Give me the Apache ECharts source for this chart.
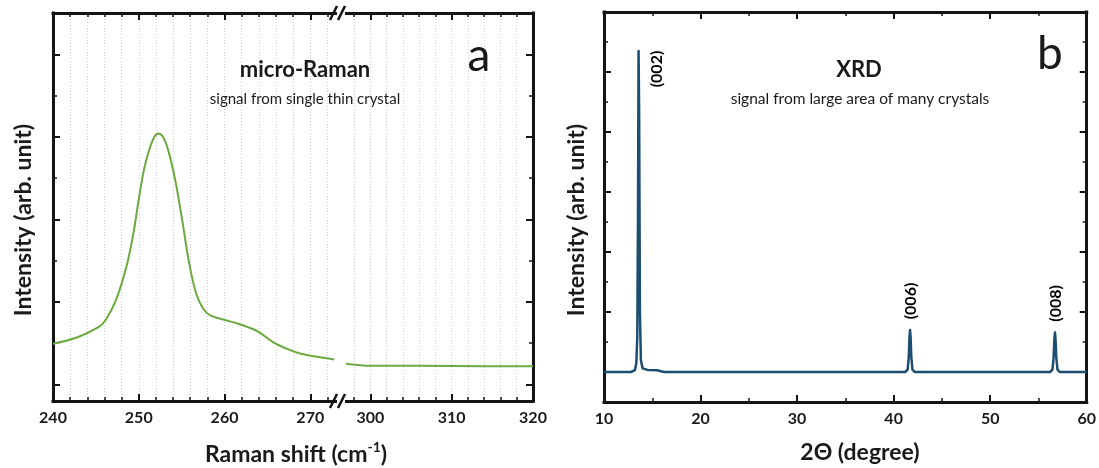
<!DOCTYPE html>
<html>
<head>
<meta charset="utf-8">
<script src="https://cdn.jsdelivr.net/npm/echarts@6/dist/echarts.min.js"></script>
<style>
  html, body { margin: 0; padding: 0; background: #ffffff; }
  #chart { width: 1099px; height: 468px; }
</style>
</head>
<body>
<div id="chart"></div>
<script>
// ---- (a) micro-Raman spectrum, split at the axis break ----
const ramanLowX = [240, 242.85, 245.3, 246.1, 247.33, 248.55, 249.37, 249.98, 250.59, 251.2, 251.81, 252.3,
  252.83, 253.44, 254.26, 255.07, 255.89, 256.7, 257.52, 258.33, 259.96, 261.59, 263.22, 264.03,
  265.66, 267.29, 268.92, 270.55, 272.79];
const ramanLowY = [0.493, 0.573, 0.695, 0.776, 1.018, 1.422, 1.826, 2.23, 2.594, 2.836, 2.998, 3.039,
  2.998, 2.836, 2.473, 1.988, 1.463, 1.099, 0.917, 0.836, 0.784, 0.735, 0.675, 0.634,
  0.513, 0.432, 0.372, 0.339, 0.303];
const ramanHighX = [297.0, 298.5, 300, 306, 314, 320];
const ramanHighY = [0.25, 0.235, 0.226, 0.226, 0.222, 0.222];

// Raman axis ticks
const ramanMajorLow = [240, 250, 260, 270];
const ramanMinorLow = [242, 244, 246, 248, 250, 252, 254, 256, 258, 260, 262, 264, 266, 268, 270, 272];
const ramanMajorHigh = [300, 310, 320];
const ramanMinorHigh = [298, 300, 302, 304, 306, 308, 310, 312, 314, 316, 318];
const ramanYMajor = [0, 1, 2, 3, 4];
const ramanYMinor = [0.5, 1.5, 2.5, 3.5];

// ---- (b) XRD pattern ----
const xrdX = [10, 12.8, 13.2, 13.35, 13.45, 13.52, 13.58, 13.64, 13.72, 13.82, 14.0, 14.5, 15.5, 16.2,
  41.2, 41.45, 41.57, 41.64, 41.7, 41.76, 41.83, 41.95, 42.2,
  56.2, 56.45, 56.57, 56.65, 56.71, 56.77, 56.85, 56.97, 57.2, 60];
const xrdY = [0, 0, 0.03, 0.15, 0.6, 2.6, 5.35, 4.3, 1.0, 0.2, 0.06, 0.035, 0.03, 0,
  0, 0.04, 0.25, 0.58, 0.70, 0.58, 0.25, 0.04, 0,
  0, 0.04, 0.24, 0.55, 0.66, 0.55, 0.24, 0.04, 0, 0];
const xrdPeakLabels = ['(002)', '(006)', '(008)'];
const xrdPeakX = [13.58, 41.7, 56.71];

const xrdMajor = [10, 20, 30, 40, 50, 60];
const xrdMinor = [15, 25, 35, 45, 55];
const xrdYMajor = [0, 1, 2, 3, 4, 5];
const xrdYMinor = [0.5, 1.5, 2.5, 3.5, 4.5, 5.5];

const INK = '#141414';
const FONT = 'Lato, "Open Sans", sans-serif';

function zip(xs, ys) { return xs.map((x, i) => [x, ys[i]]); }

function makeAxis(gridIndex, position, min, max, ticks, major, opts) {
  opts = opts || {};
  return {
    type: 'value', gridIndex, position, min, max,
    axisLine: { show: !!opts.line, onZero: false, lineStyle: { color: INK, width: 3, cap: 'square' } },
    axisTick: {
      show: true, inside: true, customValues: ticks,
      length: major ? 7 : 4,
      lineStyle: { color: INK, width: major ? 2 : 1.5 }
    },
    axisLabel: {
      show: !!opts.labels, customValues: opts.labels ? ticks : undefined,
      fontFamily: FONT, fontWeight: 'bold', fontSize: 16, color: '#1a1a1a', margin: 9
    },
    splitLine: opts.grid
      ? { show: true, lineStyle: { color: '#cfcfcf', type: [1, 2], width: 1 } }
      : { show: false }
  };
}

const xAxes = [
  // grid 0: 240-273
  makeAxis(0, 'bottom', 240, 273, ramanMajorLow, true, { line: true, labels: true }),
  makeAxis(0, 'bottom', 240, 273, ramanMinorLow, false, { grid: true }),
  makeAxis(0, 'top', 240, 273, ramanMajorLow, true, { line: true }),
  makeAxis(0, 'top', 240, 273, ramanMinorLow, false),
  // grid 1: 297-320
  makeAxis(1, 'bottom', 297, 320, ramanMajorHigh, true, { line: true, labels: true }),
  makeAxis(1, 'bottom', 297, 320, ramanMinorHigh, false, { grid: true }),
  makeAxis(1, 'top', 297, 320, ramanMajorHigh, true, { line: true }),
  makeAxis(1, 'top', 297, 320, ramanMinorHigh, false),
  // grid 2: XRD
  makeAxis(2, 'bottom', 10, 60, xrdMajor, true, { line: true, labels: true }),
  makeAxis(2, 'bottom', 10, 60, xrdMinor, false),
  makeAxis(2, 'top', 10, 60, xrdMajor, true, { line: true }),
  makeAxis(2, 'top', 10, 60, xrdMinor, false)
];

const yAxes = [
  makeAxis(0, 'left', -0.2, 4.5, ramanYMajor, true, { line: true }),
  makeAxis(0, 'left', -0.2, 4.5, ramanYMinor, false),
  makeAxis(1, 'right', -0.2, 4.5, ramanYMajor, true, { line: true }),
  makeAxis(1, 'right', -0.2, 4.5, ramanYMinor, false),
  makeAxis(2, 'left', -0.5, 6, xrdYMajor, true, { line: true }),
  makeAxis(2, 'left', -0.5, 6, xrdYMinor, false),
  makeAxis(2, 'right', -0.5, 6, xrdYMajor, true, { line: true }),
  makeAxis(2, 'right', -0.5, 6, xrdYMinor, false)
];

const ramanLine = { color: '#6aaa3e', width: 2 };

const option = {
  animation: false,
  backgroundColor: '#ffffff',
  grid: [
    { left: 53, top: 13, width: 283, height: 388 },
    { left: 346, top: 13, width: 187, height: 388 },
    { left: 604, top: 12, width: 485, height: 390 }
  ],
  xAxis: xAxes,
  yAxis: yAxes,
  series: [
    {
      type: 'line', xAxisIndex: 0, yAxisIndex: 0, data: zip(ramanLowX, ramanLowY),
      showSymbol: false, smooth: 0.35, lineStyle: ramanLine, itemStyle: { color: ramanLine.color }
    },
    {
      type: 'line', xAxisIndex: 4, yAxisIndex: 2, data: zip(ramanHighX, ramanHighY),
      showSymbol: false, smooth: 0.35, lineStyle: ramanLine, itemStyle: { color: ramanLine.color }
    },
    {
      type: 'line', xAxisIndex: 8, yAxisIndex: 4, data: zip(xrdX, xrdY),
      showSymbol: false, lineStyle: { color: '#1d4d70', width: 2.5, join: 'round' },
      itemStyle: { color: '#1d4d70' }
    }
  ]
};

const chart = echarts.init(document.getElementById('chart'), null, { renderer: 'canvas' });
chart.setOption(option);

function txt(x, y, text, size, weight, extra) {
  return Object.assign({
    type: 'text', x, y, z: 100,
    style: {
      text, fontSize: size, fontWeight: weight, fontFamily: FONT, fill: '#1a1a1a',
      align: 'center', verticalAlign: 'middle',
      textAlign: 'center', textVerticalAlign: 'middle'
    }
  }, extra || {});
}

// break marks on the Raman axis frame
function slashes(yc) {
  const s = { stroke: INK, lineWidth: 2.5 };
  return [
    { type: 'line', z: 100, shape: { x1: 330, y1: yc + 7, x2: 337, y2: yc - 7 }, style: s },
    { type: 'line', z: 100, shape: { x1: 338, y1: yc + 7, x2: 345, y2: yc - 7 }, style: s }
  ];
}

// Miller-index labels placed from the peak data
const peakTexts = xrdPeakLabels.map((label, i) => {
  const px = xrdPeakX[i];
  const py = xrdY[xrdX.indexOf(px)];
  const p = chart.convertToPixel({ gridIndex: 2 }, [px, py]);
  const beside = i === 0;
  const t = txt(p[0] + (beside ? 18 : 1), p[1] + (beside ? 18 : -29), label, 16, 'bold',
    { rotation: Math.PI / 2 });
  t.style.fill = '#000';
  return t;
});

chart.setOption({
  graphic: [
    { type: 'rect', z: 99, shape: { x: 337, y: 4, width: 8, height: 18 }, style: { fill: '#fff' } },
    { type: 'rect', z: 99, shape: { x: 337, y: 392, width: 8, height: 18 }, style: { fill: '#fff' } },
    ...slashes(13),
    ...slashes(401),
    txt(305, 70, 'micro-Raman', 22, 'bold'),
    txt(305, 99, 'signal from single thin crystal', 15, 'normal'),
    txt(479, 56, 'a', 46, 'normal'),
    txt(859, 70, 'XRD', 22, 'bold'),
    txt(860, 99, 'signal from large area of many crystals', 15.5, 'normal'),
    txt(1050, 54, 'b', 46, 'normal'),
    txt(24, 220, 'Intensity (arb. unit)', 23, 'bold', { rotation: Math.PI / 2 }),
    txt(577, 220, 'Intensity (arb. unit)', 23, 'bold', { rotation: Math.PI / 2 }),
    {
      type: 'text', x: 296, y: 453, z: 100,
      style: {
        text: '{n|Raman shift (cm}{s|-1}{n|)}',
        align: 'center', verticalAlign: 'middle', textAlign: 'center', textVerticalAlign: 'middle',
        rich: {
          n: { fontFamily: FONT, fontWeight: 'bold', fontSize: 23, lineHeight: 26, fill: '#1a1a1a', verticalAlign: 'bottom' },
          s: { fontFamily: FONT, fontWeight: 'bold', fontSize: 14, lineHeight: 26, fill: '#1a1a1a', verticalAlign: 'top', padding: [0, 0, 11, 0] }
        }
      }
    },
    txt(860, 453, '2Θ (degree)', 23, 'bold'),
    ...peakTexts
  ]
});
</script>
</body>
</html>
